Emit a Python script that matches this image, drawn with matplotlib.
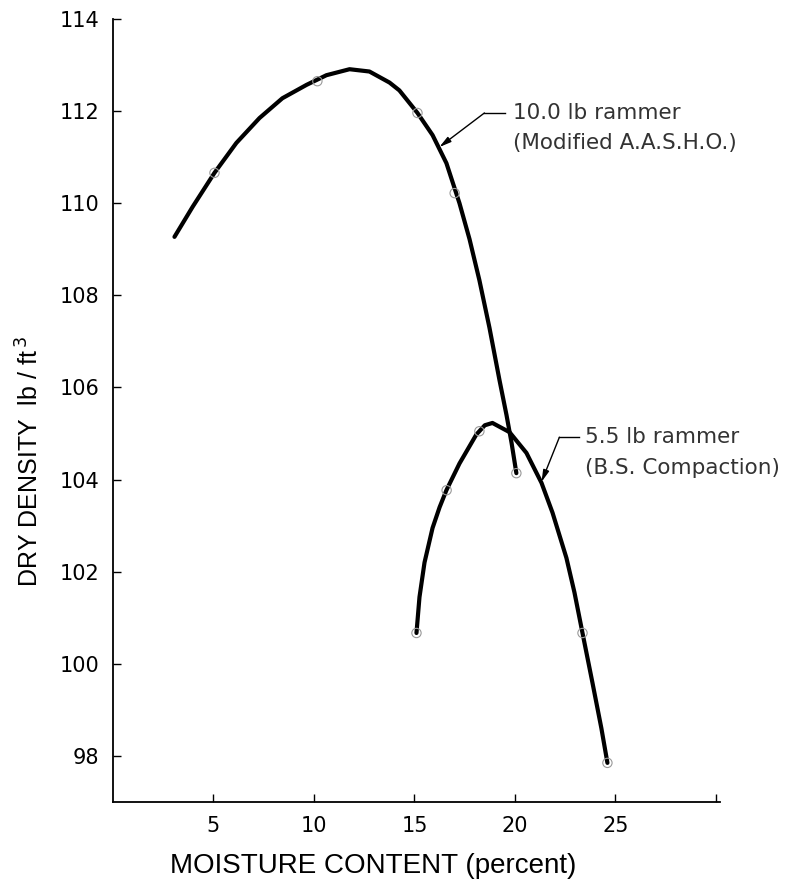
import matplotlib
matplotlib.use("Agg")
import matplotlib.pyplot as plt

# traced curve for the 10.0 lb rammer (Modified A.A.S.H.O.)
heavy_moisture = [3.06, 3.96, 5.05, 6.14, 7.29, 8.43, 9.63, 10.62, 11.77, 12.76,
                  13.76, 14.25, 15.15, 15.90, 16.59, 17.24, 17.74, 18.23, 18.73,
                  19.23, 19.58, 19.83, 20.07]
heavy_density = [109.27, 109.92, 110.66, 111.31, 111.85, 112.28, 112.57, 112.78,
                 112.91, 112.86, 112.62, 112.45, 111.96, 111.48, 110.87, 110.00,
                 109.22, 108.33, 107.30, 106.16, 105.40, 104.80, 104.14]
heavy_pts_x = [5.05, 10.17, 15.15, 17.0, 20.07]
heavy_pts_y = [110.66, 112.65, 111.96, 110.22, 104.14]

# traced curve for the 5.5 lb rammer (B.S. Compaction)
light_moisture = [15.10, 15.25, 15.50, 15.90, 16.25, 16.59, 17.24, 18.08, 18.50,
                  18.88, 19.73, 20.57, 21.32, 21.87, 22.56, 22.96, 23.36, 23.86,
                  24.30, 24.60]
light_density = [100.67, 101.45, 102.20, 102.95, 103.40, 103.77, 104.35, 104.98,
                 105.18, 105.23, 105.03, 104.58, 103.93, 103.28, 102.30, 101.55,
                 100.67, 99.58, 98.60, 97.85]
light_pts_x = [15.1, 16.6, 18.23, 23.36, 24.6]
light_pts_y = [100.67, 103.77, 105.05, 100.67, 97.85]

x_ticks = [5, 10, 15, 20, 25, 30]
x_labels = ["5", "10", "15", "20", "25", ""]
y_ticks = [98, 100, 102, 104, 106, 108, 110, 112, 114]

label_heavy = ["10.0 lb rammer", "(Modified A.A.S.H.O.)"]
label_light = ["5.5 lb rammer", "(B.S. Compaction)"]

plt.rcParams['font.family'] = ['DejaVu Sans']

fig = plt.figure(figsize=(8.04, 8.8), dpi=100)
ax = fig.add_axes([0.1405, 0.0886, 0.755, 0.8898])

ax.plot(heavy_moisture, heavy_density, color='black', lw=3.0,
        solid_capstyle='round', solid_joinstyle='round')
ax.plot(light_moisture, light_density, color='black', lw=3.0,
        solid_capstyle='round', solid_joinstyle='round')
ax.scatter(heavy_pts_x, heavy_pts_y, s=45, facecolors='none',
           edgecolors='#999999', linewidths=0.8, zorder=3)
ax.scatter(light_pts_x, light_pts_y, s=45, facecolors='none',
           edgecolors='#999999', linewidths=0.8, zorder=3)

# leader lines with small arrowheads
arrow = dict(arrowstyle='-|>,head_length=0.7,head_width=0.18',
             color='black', lw=1.0, shrinkA=0, shrinkB=0)
ax.plot([18.48, 19.48], [111.96, 111.96], color='black', lw=1.0)
ax.annotate('', xy=(16.24, 111.22), xytext=(18.48, 111.96), arrowprops=arrow)
ax.text(19.9, 111.96, label_heavy[0], fontsize=15.5, color='#333333',
        va='center', ha='left')
ax.text(19.9, 111.31, label_heavy[1], fontsize=15.5, color='#333333',
        va='center', ha='left')

ax.plot([22.21, 23.21], [104.92, 104.92], color='black', lw=1.0)
ax.annotate('', xy=(21.32, 103.95), xytext=(22.21, 104.92), arrowprops=arrow)
ax.text(23.5, 104.92, label_light[0], fontsize=15.5, color='#333333',
        va='center', ha='left')
ax.text(23.5, 104.25, label_light[1], fontsize=15.5, color='#333333',
        va='center', ha='left')

ax.set_xlim(0, 30.2)
ax.set_ylim(97, 114)
ax.set_xticks(x_ticks)
ax.set_xticklabels(x_labels)
ax.set_yticks(y_ticks)
ax.tick_params(axis='both', direction='in', length=6, width=1.0,
               labelsize=15, pad=10)
for side in ['top', 'right']:
    ax.spines[side].set_visible(False)
for side in ['left', 'bottom']:
    ax.spines[side].set_linewidth(1.3)

fig.text(170 / 804, 1 - 866 / 880, "MOISTURE CONTENT (percent)", fontsize=20,
         ha='left', va='center', family=['Liberation Sans', 'DejaVu Sans'])
fig.text(30 / 804, 1 - 462 / 880, r"DRY DENSITY  lb / ft$^{\,3}$", fontsize=18,
         ha='center', va='center', rotation=90, fontstretch='condensed',
         family=['Liberation Sans Narrow', 'Liberation Sans', 'DejaVu Sans'])

fig.savefig("out.png", dpi=100)
